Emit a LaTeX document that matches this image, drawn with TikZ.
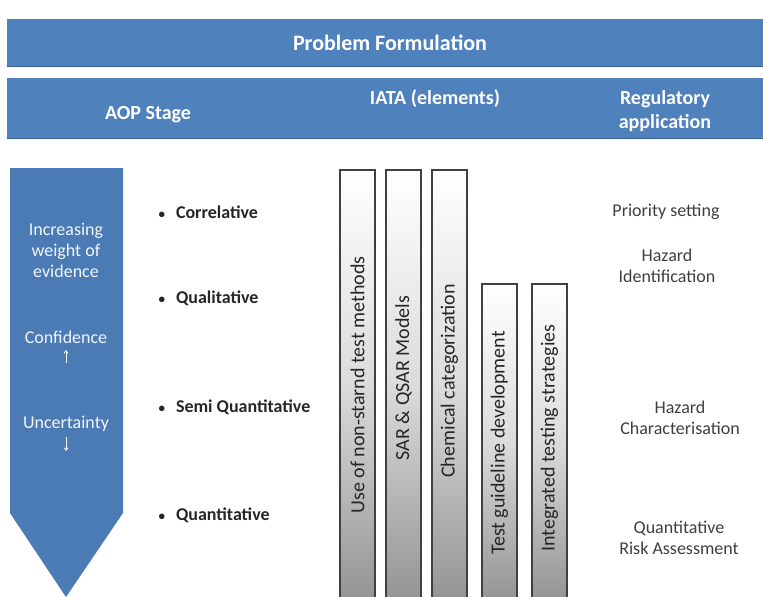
\documentclass[tikz,border=0pt]{standalone}
\usepackage{fontspec}
\setmainfont{Carlito}
\usetikzlibrary{arrows.meta}
\definecolor{hdrblue}{HTML}{4F81BD}
\definecolor{hdrline}{HTML}{3A6395}
\definecolor{txtgray}{HTML}{3F3F3F}
\newcommand{\bul}[1]{{\fontsize{13}{16}\selectfont•}\hspace{11pt}#1}
\begin{document}
\begin{tikzpicture}[x=1pt,y=-1pt,
  hdr/.style={fill=hdrblue, draw=none},
  hdrtxt/.style={text=white, font=\bfseries\fontsize{20}{24}\selectfont, align=center},
  arrtxt/.style={text=white!92!hdrblue, font=\fontsize{18}{21}\selectfont, align=center},
  arrline/.style={draw=white!92!hdrblue, line width=0.9pt, -{Straight Barb[length=2.5pt,width=4pt]}},
  bullet/.style={anchor=west, font=\bfseries\fontsize{18}{21}\selectfont, text=black!85},
  regtxt/.style={text=txtgray, font=\fontsize{18}{21}\selectfont, align=center},
  bar/.style={draw=black!75, line width=1.6pt, top color=white, bottom color=black!42, middle color=black!14},
  bartxt/.style={rotate=90, text=black!85, font=\fontsize{20}{24}\selectfont}
]
\useasboundingbox (0,0) rectangle (763,597);
\clip (0,0) rectangle (763,597);
% header bars
\fill[hdr] (7,19) rectangle (765,66);
\draw[hdrline, line width=1pt] (7,66) -- (765,66);
\fill[hdr] (7,78) rectangle (765,138);
\draw[hdrline, line width=1pt] (7,138) -- (765,138);
\node[hdrtxt, font=\bfseries\fontsize{22}{26}\selectfont] (pf) at (390,43) {Problem Formulation};
\node[hdrtxt] (aop) at (148,115) {AOP Stage};
\node[hdrtxt] (iata) at (435,99) {IATA (elements)};
\node[hdrtxt] (reg) at (665,111) {Regulatory\\application};
% big arrow
\fill[hdrblue!95!black] (10,168) -- (123,168) -- (123,513) -- (66,597) -- (10,513) -- cycle;
\node[arrtxt] (w) at (66,250) {Increasing\\weight of\\evidence};
\node[arrtxt] (c) at (66,337) {Confidence};
\coordinate (cu1) at (66,363);
\coordinate (cu2) at (66,350);
\draw[arrline] (cu1) -- (cu2);
\node[arrtxt] (u) at (66,424) {Uncertainty};
\coordinate (ud1) at (66,437);
\coordinate (ud2) at (66,451);
\draw[arrline] (ud1) -- (ud2);
% bullets
\node[bullet] (b1) at (155,212) {\bul{Correlative}};
\node[bullet] (b2) at (155,298) {\bul{Qualitative}};
\node[bullet] (b3) at (155,407) {\bul{Semi Quantitative}};
\node[bullet] (b4) at (155,515) {\bul{Quantitative}};
% IATA bars
\draw[bar] (340,170) rectangle (375,600);
\draw[bar] (386,170) rectangle (421,600);
\draw[bar] (432,170) rectangle (467,600);
\draw[bar] (482,284) rectangle (517,600);
\draw[bar] (532,284) rectangle (567,600);
\node[bartxt] (t1) at (357.5,385) {Use of non-starnd test methods};
\node[bartxt] (t2) at (403.5,378) {SAR \& QSAR Models};
\node[bartxt] (t3) at (449.5,381) {Chemical categorization};
\node[bartxt] (t4) at (499.5,443) {Test guideline development};
\node[bartxt] (t5) at (549.5,438) {Integrated testing strategies};
% regulatory application
\node[regtxt] (r1) at (666,212) {Priority setting};
\node[regtxt] (r2) at (667,266) {Hazard\\Identification};
\node[regtxt] (r3) at (680,418) {Hazard\\Characterisation};
\node[regtxt] (r4) at (679,538) {Quantitative\\Risk Assessment};
\end{tikzpicture}
\end{document}
